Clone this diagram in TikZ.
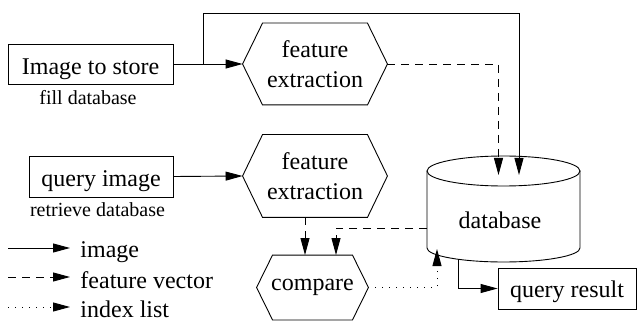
\documentclass[tikz,border=0pt]{standalone}
\usepackage{fontspec}
\newfontfamily\lsr{Liberation Serif}
\usetikzlibrary{arrows.meta}
\newcommand\hexoutline[2]{\draw (#1.west) -- ([xshift=#2]#1.north west) -- ([xshift=-#2]#1.north east) -- (#1.east) -- ([xshift=-#2]#1.south east) -- ([xshift=#2]#1.south west) -- cycle;}
\begin{document}
\begin{tikzpicture}[x=1pt,y=-1pt, line width=0.9pt,
  >={Triangle[length=17pt,width=9pt]},
  box/.style={draw, rectangle, inner sep=0pt, font=\lsr\fontsize{24}{30}\selectfont, text depth=0pt},
  hexnode/.style={rectangle, inner sep=0pt, align=center, font=\lsr\fontsize{24}{30}\selectfont},
  sub/.style={font=\lsr\fontsize{20}{24}\selectfont, inner sep=0pt, anchor=base},
  leg/.style={font=\lsr\fontsize{24}{28}\selectfont, inner sep=0pt, anchor=base west},
  fv/.style={dash pattern=on 8pt off 6pt},
  il/.style={dash pattern=on 1pt off 6pt},
]
\useasboundingbox (0,0) rectangle (637,323);

% boxes
\node[box, minimum width=165pt, minimum height=40pt, text height=22pt] (store) at (90.5,64) {Image to store};
\node[box, minimum width=144pt, minimum height=41pt, text height=20pt] (query) at (101,176.5) {query image};
\node[box, minimum width=138pt, minimum height=41pt, text height=18pt] (result) at (567,288.5) {query result};

\node[sub] (fill) at (88,105) {fill database};
\node[sub] (retr) at (97.5,216.5) {retrieve database};

% hexagons
\node[hexnode, minimum width=144pt, minimum height=81pt] (hex1) at (315,64) {feature\\extraction};
\node[hexnode, minimum width=144pt, minimum height=82pt] (hex2) at (315,176) {feature\\extraction};
\node[hexnode, minimum width=111pt, minimum height=64pt] (cmp) at (312.5,287.5) {compare};
\hexoutline{hex1}{20pt}
\hexoutline{hex2}{20pt}
\hexoutline{cmp}{16pt}

% database
\coordinate (dbc) at (503.5,171);
\draw (dbc) ellipse [x radius=76.5pt, y radius=15pt];
\draw (427,171) -- (427,248) .. controls (427,255.7) and (461.25,262) .. (503.5,262)
      .. controls (545.75,262) and (580,255.7) .. (580,248) -- (580,171);
\node[hexnode] (db) at (500,220) {database};

% connectors
\coordinate (br) at (203,64);
\coordinate (tl) at (203,13);
\coordinate (dbin1) at (498.5,175);
\coordinate (dbin2) at (519,175);
\coordinate (dbL) at (427,228);
\coordinate (dbB1) at (437,249);
\coordinate (dbB2) at (458,259);

\draw[->] (store.east) -- (hex1.west);
\draw[->] (br) -- (tl) -| (dbin2);
\draw[->,fv] (hex1.east) -| (dbin1);
\draw[->] (query.east) -- (hex2.west);
\draw[->,fv] ([xshift=-10pt]hex2.south) -- ([xshift=-7.5pt]cmp.north);
\draw[->,fv] (dbL) -| ([xshift=23.5pt]cmp.north);
\draw[->,il] (cmp.east) -| (dbB1);
\draw[->] (dbB2) |- (result.west);

% legend
\coordinate (l1s) at (8,248);
\coordinate (l1e) at (70,248);
\coordinate (l2s) at (8,277);
\coordinate (l2e) at (70,277);
\coordinate (l3s) at (8,307);
\coordinate (l3e) at (70,307);
\draw[->] (l1s) -- (l1e);
\draw[->,fv] (l2s) -- (l2e);
\draw[->,il] (l3s) -- (l3e);
\node[leg] (t1) at (80,257.5) {image};
\node[leg] (t2) at (80,288) {feature vector};
\node[leg] (t3) at (80,317) {index list};
\end{tikzpicture}
\end{document}
